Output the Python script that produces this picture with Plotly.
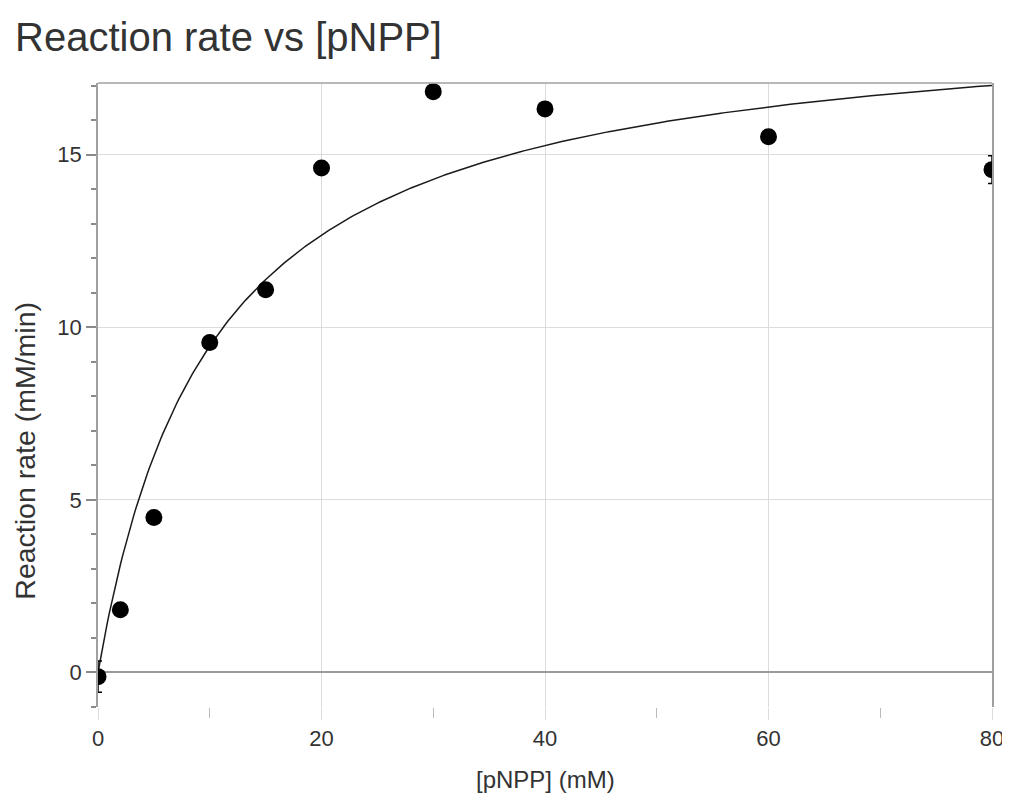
import numpy as np
import plotly.graph_objects as go

# ---- data ----
substrate_mM = [0, 2, 5, 10, 15, 20, 30, 40, 60, 80]
rate_mM_min = [-0.12, 1.82, 4.49, 9.56, 11.09, 14.62, 16.83, 16.33, 15.52, 14.57]
rate_err = [0.45, 0.15, 0.15, 0.15, 0.15, 0.15, 0.15, 0.15, 0.15, 0.4]

# Michaelis-Menten fit parameters (estimated from the drawn curve)
vmax = 19.2
km = 10.3

x_ticks = [0, 20, 40, 60, 80]
y_ticks = [0, 5, 10, 15]

fit_x = np.linspace(0, 80, 400)
fit_y = vmax * fit_x / (km + fit_x)

FONT = "Liberation Sans, Arial, sans-serif"
# page body has an 8px margin; figure sized to fill the remaining viewport
W, H = 1002, 800
PL, PT, PR, PB = 90, 75, 984, 699.5   # plot area in figure pixels
PW, PH = PR - PL, PB - PT

fig = go.Figure()
fig.add_trace(go.Scatter(
    x=fit_x, y=fit_y, mode="lines",
    line=dict(color="#1a1a1a", width=1.5),
    hoverinfo="skip", showlegend=False,
))
fig.add_trace(go.Scatter(
    x=substrate_mM, y=rate_mM_min, mode="markers",
    marker=dict(color="black", size=17),
    error_y=dict(type="data", array=rate_err, visible=True,
                 color="black", thickness=1.5, width=4),
    showlegend=False,
))

# top border line (no bottom border in the reference)
fig.add_shape(type="line", xref="paper", yref="paper",
              x0=0, x1=1, y0=1, y1=1,
              line=dict(color="#a0a0a0", width=1.5))

fig.update_layout(
    width=W, height=H,
    paper_bgcolor="white", plot_bgcolor="white",
    margin=dict(l=PL, r=W-PR, t=PT, b=H-PB, pad=0, autoexpand=False),
    font=dict(family=FONT, color="#333333"),
    title=dict(text="Reaction rate vs [pNPP]",
               xref="container", yref="container",
               x=7/W, xanchor="left",
               y=1-29/H, yanchor="middle",
               font=dict(size=40, color="#333333", family=FONT)),
    annotations=[
        dict(text="[pNPP] (mM)", xref="paper", yref="paper",
             x=0.5, y=-(772-PB)/PH, xanchor="center", yanchor="middle",
             showarrow=False, font=dict(size=24, color="#333333", family=FONT)),
        dict(text="Reaction rate (mM/min)", xref="paper", yref="paper",
             x=-(PL-17)/PW, y=(PB-443)/PH, xanchor="center", yanchor="middle",
             textangle=-90, showarrow=False, borderpad=0,
             font=dict(size=28.5, color="#333333", family=FONT)),
    ],
)
fig.update_xaxes(
    range=[0, 80], tickvals=x_ticks, automargin=False,
    showgrid=True, gridcolor="#dcdcdc", gridwidth=1,
    zeroline=False, showline=False,
    ticks="outside", ticklen=12, tickcolor="#dcdcdc", tickwidth=1,
    minor=dict(tickvals=[10, 30, 50, 70], ticks="outside", ticklen=10,
               tickcolor="#bbbbbb", showgrid=False),
    tickfont=dict(size=22, color="#333333"),
)
fig.update_yaxes(
    range=[-1.0, 17.08], tickvals=y_ticks, automargin=False,
    showgrid=True, gridcolor="#dcdcdc", gridwidth=1,
    zeroline=True, zerolinecolor="#9a9a9a", zerolinewidth=2,
    showline=True, linecolor="#a0a0a0", linewidth=1.5, mirror=True,
    ticks="outside", ticklen=10, tickcolor="#8a8a8a", tickwidth=1.5,
    minor=dict(dtick=1, tick0=0, ticks="outside", ticklen=5,
               tickcolor="#8a8a8a", showgrid=False),
    tickfont=dict(size=22, color="#333333"),
)

fig.write_html("out.html")
